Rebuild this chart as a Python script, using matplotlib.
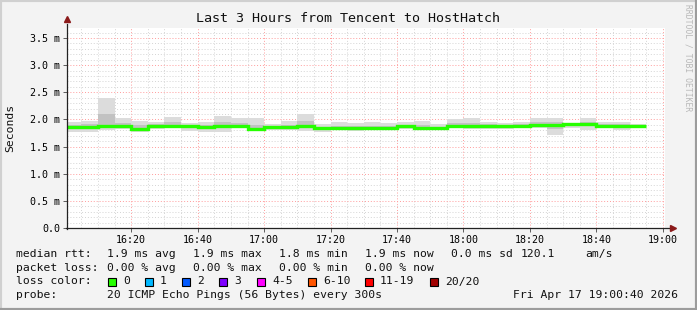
import numpy as np
import matplotlib.pyplot as plt
from matplotlib.lines import Line2D
from matplotlib.patches import Rectangle

W, H = 697, 310

# 5-minute buckets starting at 16:00 (minutes after 16:00)
bucket_start = np.arange(0, 175, 5)
# median rtt (ms) per bucket
median = [1.866, 1.866, 1.885, 1.885, 1.83, 1.88, 1.88, 1.88, 1.866, 1.88,
          1.88, 1.83, 1.86, 1.86, 1.87, 1.84, 1.84, 1.84, 1.84, 1.84,
          1.87, 1.85, 1.84, 1.88, 1.88, 1.88, 1.87, 1.885, 1.90, 1.90,
          1.91, 1.91, 1.88, 1.88, 1.88]
# smoke extent (ms): highest and lowest ping per bucket
smoke_hi = [1.95, 1.97, 2.40, 2.02, 1.98, 1.95, 2.05, 1.93, 1.96, 2.07,
            2.02, 2.02, 1.91, 1.97, 2.10, 1.91, 1.95, 1.93, 1.95, 1.94,
            1.95, 1.97, 1.91, 2.00, 2.03, 1.95, 1.94, 1.95, 2.02, 2.02,
            1.94, 2.02, 1.96, 1.96, 1.91]
smoke_lo = [1.76, 1.76, 1.80, 1.83, 1.76, 1.82, 1.84, 1.78, 1.76, 1.77,
            1.84, 1.80, 1.80, 1.80, 1.78, 1.77, 1.80, 1.78, 1.82, 1.80,
            1.82, 1.80, 1.81, 1.84, 1.82, 1.82, 1.82, 1.85, 1.84, 1.72,
            1.84, 1.81, 1.84, 1.81, 1.84]

x_ticks = [20, 40, 60, 80, 100, 120, 140, 160, 180]
x_labels = ["16:20", "16:40", "17:00", "17:20", "17:40", "18:00", "18:20", "18:40", "19:00"]
y_ticks = [0.0, 0.5, 1.0, 1.5, 2.0, 2.5, 3.0, 3.5]
y_labels = ["0.0", "0.5 m", "1.0 m", "1.5 m", "2.0 m", "2.5 m", "3.0 m", "3.5 m"]

loss_labels = ["0", "1", "2", "3", "4-5", "6-10", "11-19", "20/20"]
loss_colors = ["#26ff00", "#00b8ff", "#0059ff", "#7e00ff", "#ff00ff", "#ff5500", "#ff0000", "#a00000"]

MONO = "DejaVu Sans Mono"


def px(x, y):
    return x / W, 1 - y / H


fig = plt.figure(figsize=(W / 100, H / 100), dpi=100, facecolor="#f3f3f3")
ax = fig.add_axes([67 / W, (H - 228) / H, (665 - 67) / W, 200 / H])
ax.set_facecolor("white")
ax.set_xlim(0.667, 180.667)
ax.set_ylim(0, 3.684)
for s in ax.spines.values():
    s.set_visible(False)

# grid
for xv in np.arange(5, 181, 5):
    major = xv % 20 == 0
    ax.axvline(xv, color="#ff9c9c" if major else "#d4d4d4", lw=0.7,
               ls=(0, (1, 2)), zorder=1)
for yv in np.arange(0.1, 3.69, 0.1):
    major = abs(yv / 0.5 - round(yv / 0.5)) < 1e-6
    ax.axhline(yv, color="#ff9c9c" if major else "#d4d4d4", lw=0.7,
               ls=(0, (1, 2)), zorder=1)

# smoke
edges = np.append(bucket_start, bucket_start[-1] + 5)
med = np.array(median)
hi = np.array(smoke_hi)
lo = np.array(smoke_lo)
ax.stairs(hi, edges, baseline=lo, fill=True, color="#dcdcdc", zorder=2)
ax.stairs(med + (hi - med) * 0.4, edges, baseline=med - (med - lo) * 0.4,
          fill=True, color="#c2c2c2", zorder=3)
ax.stairs(med + 0.015, edges, baseline=med - 0.03, fill=True, color="#8e8e8e", zorder=4)
ax.stairs(med, edges, baseline=None, color="#26ff00", lw=2.4, zorder=5)

ax.set_xticks(x_ticks)
ax.set_xticklabels(x_labels, family=MONO, fontsize=7.2)
ax.set_yticks(y_ticks)
ax.set_yticklabels(y_labels, family=MONO, fontsize=7.2)
ax.tick_params(axis="both", length=3, width=0.6, color="#444444")
ax.tick_params(axis="x", pad=2)
ax.tick_params(axis="y", pad=2)

# axis lines with arrows
fig.add_artist(Line2D(*zip(px(67, 229), px(67, 24)), transform=fig.transFigure,
                      color="#222222", lw=0.9))
fig.add_artist(Line2D(*zip(px(66, 228), px(671, 228)), transform=fig.transFigure,
                      color="#222222", lw=0.9))
fig.add_artist(Line2D([px(67, 19)[0]], [px(67, 19)[1]], marker="^", ms=4.5,
                      color="#8b1a1a", transform=fig.transFigure))
fig.add_artist(Line2D([px(673, 228)[0]], [px(673, 228)[1]], marker=">", ms=4.5,
                      color="#8b1a1a", transform=fig.transFigure))

fig.text(*px(348, 19), "Last 3 Hours from Tencent to HostHatch", family=MONO,
         fontsize=9.6, ha="center", va="center", color="#111111")
fig.text(*px(10, 128), "Seconds", family=MONO, fontsize=8.2, rotation=90,
         ha="center", va="center", color="#111111")
fig.text(*px(688, 4), "RRDTOOL / TOBI OETIKER", family=MONO, fontsize=5.8,
         rotation=270, ha="center", va="top", color="#b8b8b8")

# legend rows
rows_y = [254, 267.7, 281.5, 295]
fs = 8.2
tk = dict(family=MONO, fontsize=fs, va="center", color="#111111")
row1 = [(16, "median rtt:"), (107, "1.9 ms avg"), (193, "1.9 ms max"), (279, "1.8 ms min"),
        (365, "1.9 ms now"), (451, "0.0 ms sd"), (521, "120.1"), (585, "am/s")]
row2 = [(16, "packet loss:"), (107, "0.00 % avg"), (193, "0.00 % max"), (279, "0.00 % min"),
        (365, "0.00 % now")]
for xx, t in row1:
    fig.text(*px(xx, rows_y[0]), t, **tk)
for xx, t in row2:
    fig.text(*px(xx, rows_y[1]), t, **tk)

fig.text(*px(16, rows_y[2]), "loss color:", **tk)
box_x = [108, 145, 182, 219, 257, 308, 365, 430]
for bx, lab, c in zip(box_x, loss_labels, loss_colors):
    x0, y0 = px(bx, rows_y[2] + 4)
    fig.add_artist(Rectangle((x0, y0), 8 / W, 8 / H, transform=fig.transFigure,
                             facecolor=c, edgecolor="black", lw=0.8))
    fig.text(*px(bx + 15, rows_y[2]), lab, **tk)

fig.text(*px(16, rows_y[3]), "probe:", **tk)
fig.text(*px(107, rows_y[3]), "20 ICMP Echo Pings (56 Bytes) every 300s", **tk)
fig.text(*px(513, rows_y[3]), "Fri Apr 17 19:00:40 2026", **tk)

# image frame
fig.add_artist(Line2D([0, 0, 1], [0, 1, 1], transform=fig.transFigure, color="#d0d0d0", lw=3))
fig.add_artist(Line2D([0, 1, 1], [0, 0, 1], transform=fig.transFigure, color="#9c9c9c", lw=3))

fig.savefig("out.png", dpi=100, facecolor=fig.get_facecolor())
